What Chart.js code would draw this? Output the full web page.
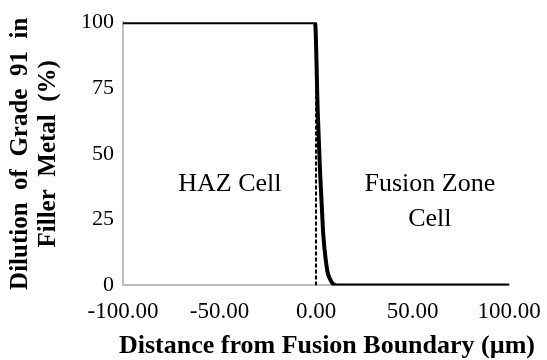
<!DOCTYPE html>
<html>
<head>
<meta charset="utf-8">
<script src="https://cdn.jsdelivr.net/npm/chart.js@4.4.0/dist/chart.umd.min.js"></script>
<style>
  html, body { margin: 0; padding: 0; background: #fff; }
</style>
</head>
<body>
<canvas id="myChart" width="547" height="360"></canvas>
<script>
// distance from fusion boundary (um) and dilution (%)
const distance = [-100, -0.5, 0.9, 2, 3, 3.8, 5, 6, 7.2, 8.5, 10.7, 100];
const dilution = [100, 100, 66, 45, 30, 19, 10, 5, 2.5, 0.8, 0, 0];
const boundaryX = [0, 0];
const boundaryY = [0, 100];
const xTicks = [-100, -50, 0, 50, 100];
const yTicks = [0, 25, 50, 75, 100];
const xTitle = "Distance from Fusion Boundary (\u00b5m)";
const yTitle = ["Dilution  of  Grade  91  in", "Filler  Metal  (%)"];

const serif = "'Liberation Serif', 'Times New Roman', serif";

let labelsPlugin = {
  id: "zoneLabels",
  afterDraw(chart) {
    let ctx = chart.ctx;
    let x = chart.scales.x;
    let y = chart.scales.y;
    ctx.save();
    ctx.fillStyle = "#000";
    ctx.font = "26px " + serif;
    ctx.textAlign = "center";
    ctx.textBaseline = "middle";
    ctx.fillText("HAZ Cell", x.getPixelForValue(-44.6), y.getPixelForValue(38.4));
    ctx.fillText("Fusion Zone", x.getPixelForValue(59), y.getPixelForValue(38.4));
    ctx.fillText("Cell", x.getPixelForValue(59), y.getPixelForValue(25));

    // x axis title, sits a little right of the plot centre like the original
    ctx.font = "bold 26px " + serif;
    ctx.textBaseline = "alphabetic";
    ctx.fillText(xTitle, (x.left + x.right) / 2 + 11, 353);
    ctx.restore();
  }
};

let ctx = document.getElementById("myChart");
let myChart = new Chart(ctx, {
  type: "line",
  data: {
    datasets: [
      {
        data: distance.map((d, i) => ({ x: d, y: dilution[i] })),
        borderColor: "#000",
        borderWidth: 4,
        pointRadius: 0,
        cubicInterpolationMode: "monotone",
        fill: false,
      },
      {
        data: boundaryX.map((d, i) => ({ x: d, y: boundaryY[i] })),
        borderColor: "#000",
        borderWidth: 2,
        borderDash: [4, 2],
        pointRadius: 0,
        fill: false,
      },
    ],
  },
  options: {
    responsive: false,
    animation: false,
    layout: { padding: { left: 7, right: 3, top: 10, bottom: 21 } },
    plugins: { legend: { display: false }, tooltip: { enabled: false } },
    scales: {
      x: {
        type: "linear",
        min: -100,
        max: 100,
        afterBuildTicks: (axis) => { axis.ticks = xTicks.map((v) => ({ value: v })); },
        afterFit: (axis) => { axis.paddingRight = 38; },
        grid: { display: false, drawTicks: false },
        border: { color: "#bfbfbf", width: 2 },
        ticks: {
          color: "#000",
          font: { family: serif, size: 23 },
          padding: 13,
          maxRotation: 0,
          callback: (v) => Number(v).toFixed(2),
        },
      },
      y: {
        min: 0,
        max: 100,
        afterBuildTicks: (axis) => { axis.ticks = yTicks.map((v) => ({ value: v })); },
        grid: { display: false, drawTicks: false },
        border: { color: "#bfbfbf", width: 2 },
        ticks: {
          color: "#000",
          font: { family: serif, size: 22 },
          padding: 9,
        },
        title: {
          display: true,
          text: yTitle,
          color: "#000",
          font: { family: serif, size: 25, weight: "bold", lineHeight: 1.1 },
          padding: { top: 0, bottom: 10 },
        },
      },
    },
  },
  plugins: [labelsPlugin],
});
</script>
</body>
</html>
